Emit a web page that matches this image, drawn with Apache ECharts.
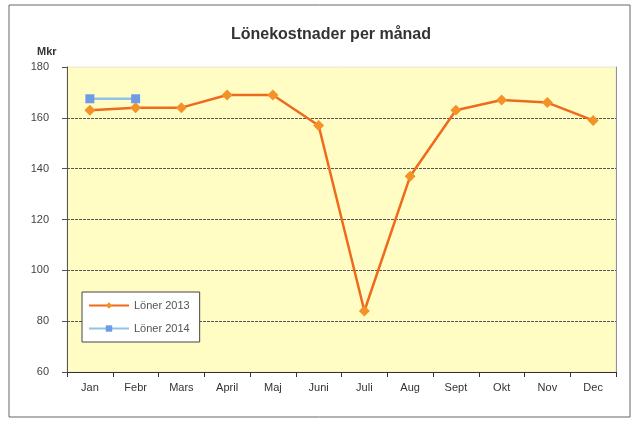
<!DOCTYPE html>
<html>
<head>
<meta charset="utf-8">
<script src="https://cdn.jsdelivr.net/npm/echarts@6/dist/echarts.min.js"></script>
<style>
    html, body { margin: 0; padding: 0; background: #fff; }
    #chart { width: 640px; height: 421px; }
</style>
</head>
<body>
<div id="chart"></div>
<script>
var months = ["Jan", "Febr", "Mars", "April", "Maj", "Juni", "Juli", "Aug", "Sept", "Okt", "Nov", "Dec"];
var loner2013 = [163, 164, 164, 169, 169, 157, 84, 137, 163, 167, 166, 159];
var loner2014 = [167.5, 167.5];
var yTicks = { min: 60, max: 180, step: 20 };

var c = echarts.init(document.getElementById("chart"));
var font = "'Liberation Sans', Arial, sans-serif";

var option = {
    animation: false,
    textStyle: { fontFamily: font },
    graphic: [{
        type: "rect",
        shape: { x: 9, y: 5, width: 621, height: 412 },
        style: { fill: null, stroke: "#666", lineWidth: 1 }
    }, {
        type: "text",
        left: 37,
        top: 46,
        style: { text: "Mkr", font: "bold 11px " + font, fill: "#333" }
    }],
    title: {
        text: "Lönekostnader per månad",
        left: 326,
        textAlign: "center",
        top: 22,
        textStyle: { fontSize: 16, fontWeight: "bold", color: "#333", fontFamily: font }
    },
    legend: {
        orient: "vertical",
        left: 82,
        top: 292,
        padding: [8, 10, 8, 6],
        itemGap: 12,
        itemWidth: 40,
        itemHeight: 8,
        backgroundColor: "#fff",
        borderColor: "#444",
        borderWidth: 1,
        textStyle: { fontSize: 11, color: "#555", fontFamily: font },
        data: ["Löner 2013", "Löner 2014"]
    },
    grid: {
        left: 67,
        right: 24,
        top: 67,
        bottom: 49,
        show: true,
        backgroundColor: "#FFFDC4",
        borderColor: "#e6e6d0",
        borderWidth: 1
    },
    xAxis: {
        type: "category",
        data: months,
        boundaryGap: true,
        axisLine: { lineStyle: { color: "#333" } },
        axisTick: { show: true, lineStyle: { color: "#333" } },
        axisLabel: { fontSize: 11, color: "#333", margin: 10, fontFamily: font }
    },
    yAxis: [{
        type: "value",
        min: yTicks.min,
        max: yTicks.max,
        interval: yTicks.step,
        axisLine: { show: true, lineStyle: { color: "#555" } },
        axisTick: { show: true, lineStyle: { color: "#555" } },
        axisLabel: { fontSize: 11, color: "#444", margin: 18, fontFamily: font },
        splitLine: { showMaxLine: false, lineStyle: { color: "#555", type: [3, 1], width: 1 } }
    }, {
        type: "value",
        position: "right",
        min: yTicks.min,
        max: yTicks.max,
        interval: yTicks.step,
        axisLine: { show: true, lineStyle: { color: "#8a93a0" } },
        axisTick: { show: false },
        axisLabel: { show: false },
        splitLine: { show: false }
    }],
    series: [{
        name: "Löner 2013",
        type: "line",
        data: loner2013,
        symbol: "diamond",
        symbolSize: 11,
        lineStyle: { color: "#EE6A1C", width: 2.5 },
        itemStyle: { color: "#F4922A" },
        z: 2
    }, {
        name: "Löner 2014",
        type: "line",
        data: loner2014,
        symbol: "rect",
        symbolSize: 9,
        lineStyle: { color: "#8FC3E8", width: 2.5 },
        itemStyle: { color: "#6F9BE6" },
        z: 3
    }]
};

c.setOption(option);
</script>
</body>
</html>
